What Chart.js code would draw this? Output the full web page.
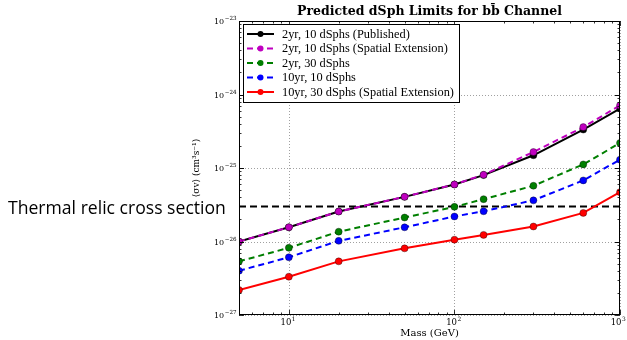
<!DOCTYPE html>
<html>
<head>
<meta charset="utf-8">
<script src="https://cdn.jsdelivr.net/npm/chart.js@4.4.1/dist/chart.umd.min.js"></script>
<style>
  html, body { margin: 0; padding: 0; background: #fff; }
</style>
</head>
<body>
<canvas id="grafico" width="627" height="340"></canvas>
<script>
// masas en GeV
const masas = [5, 10, 20, 50, 100, 150, 300, 600, 1000];
// <sigma v> en cm^3 s^-1
const publicado2yr10 = [1.0e-26, 1.56e-26, 2.56e-26, 4.05e-26, 5.97e-26, 8.0e-26, 1.49e-25, 3.33e-25, 6.44e-25];
const extension2yr10 = [1.0e-26, 1.56e-26, 2.56e-26, 4.05e-26, 5.97e-26, 8.1e-26, 1.65e-25, 3.6e-25, 7.1e-25];
const limite2yr30 = [5.37e-27, 8.2e-27, 1.36e-26, 2.12e-26, 2.96e-26, 3.77e-26, 5.73e-26, 1.12e-25, 2.19e-25];
const limite10yr10 = [4.0e-27, 6.1e-27, 1.02e-26, 1.56e-26, 2.19e-26, 2.58e-26, 3.63e-26, 6.78e-26, 1.3e-25];
const extension10yr30 = [2.19e-27, 3.32e-27, 5.37e-27, 8.07e-27, 1.06e-26, 1.23e-26, 1.6e-26, 2.45e-26, 4.69e-26];
const reliquiaTermica = 3.0e-26;

const etiquetas = [
  "2yr, 10 dSphs (Published)",
  "2yr, 10 dSphs (Spatial Extension)",
  "2yr, 30 dSphs",
  "10yr, 10 dSphs",
  "10yr, 30 dSphs (Spatial Extension)"
];
const ticksX = [1, 2, 3];          // exponentes de 10
const ticksY = [-27, -26, -25, -24, -23];

const colores = ["#000000", "#bf00bf", "#007f00", "#0000ff", "#ff0000"];
const discontinua = [false, true, true, true, false];
const series = [publicado2yr10, extension2yr10, limite2yr30, limite10yr10, extension10yr30];
const orden = [2, 1, 3, 4, 0];

const serif = '"DejaVu Serif", "Liberation Serif", serif';
const serifLeyenda = '"Liberation Serif", serif';

function puntos(valores) {
  return masas.map((m, i) => ({ x: m, y: valores[i] }));
}

const datasets = series.map((valores, i) => ({
  label: etiquetas[i],
  data: puntos(valores),
  borderColor: colores[i],
  backgroundColor: colores[i],
  borderWidth: 2,
  borderDash: discontinua[i] ? [6, 4] : [],
  pointRadius: 3.5,
  pointBackgroundColor: colores[i],
  pointBorderColor: "rgba(0,0,0,0.6)",
  pointBorderWidth: 0.6,
  tension: 0,
  order: orden[i]
}));

datasets.push({
  label: "Thermal relic cross section",
  data: [{ x: 5, y: reliquiaTermica }, { x: 1000, y: reliquiaTermica }],
  borderColor: "#000",
  borderWidth: 2,
  borderDash: [7, 4],
  pointRadius: 0,
  order: 10
});

function potencia(ctx, exp, x, y, size, align) {
  const base = "10";
  const sup = String(exp).replace("-", "\u2212");
  ctx.font = size + "px " + serif;
  const wb = ctx.measureText(base).width;
  ctx.font = (size * 0.7) + "px " + serif;
  const ws = ctx.measureText(sup).width;
  let x0 = x;
  if (align === "center") x0 = x - (wb + ws) / 2;
  if (align === "right") x0 = x - (wb + ws);
  ctx.textAlign = "left";
  ctx.textBaseline = "middle";
  ctx.font = size + "px " + serif;
  ctx.fillText(base, x0, y);
  ctx.font = (size * 0.7) + "px " + serif;
  ctx.fillText(sup, x0 + wb + 0.5, y - size * 0.4);
}

const decoracion = {
  id: "decoracion",
  beforeDatasetsDraw(chart) {
    const { ctx, chartArea: a, scales: { x, y } } = chart;
    ctx.save();
    ctx.strokeStyle = "#888";
    ctx.lineWidth = 0.8;
    ctx.setLineDash([1, 2]);
    ticksX.forEach(e => {
      const px = Math.round(x.getPixelForValue(Math.pow(10, e))) + 0.5;
      ctx.beginPath(); ctx.moveTo(px, a.top); ctx.lineTo(px, a.bottom); ctx.stroke();
    });
    ticksY.forEach(e => {
      const py = Math.round(y.getPixelForValue(Math.pow(10, e))) + 0.5;
      ctx.beginPath(); ctx.moveTo(a.left, py); ctx.lineTo(a.right, py); ctx.stroke();
    });
    ctx.restore();
  },
  afterDraw(chart) {
    const { ctx, chartArea: a, scales: { x, y } } = chart;
    ctx.save();
    // marco
    ctx.strokeStyle = "#000";
    ctx.lineWidth = 1;
    ctx.strokeRect(a.left + 0.5, a.top + 0.5, a.right - a.left - 1, a.bottom - a.top - 1);

    // marcas menores y mayores
    ctx.lineWidth = 0.8;
    for (let e = 0; e <= 3; e++) {
      for (let k = 1; k <= 9; k++) {
        const v = k * Math.pow(10, e);
        if (v < 5 || v > 1000) continue;
        const px = Math.round(x.getPixelForValue(v)) + 0.5;
        const len = k === 1 ? 5 : 2.5;
        ctx.beginPath();
        ctx.moveTo(px, a.bottom); ctx.lineTo(px, a.bottom - len);
        ctx.moveTo(px, a.top); ctx.lineTo(px, a.top + len);
        ctx.stroke();
      }
    }
    for (let e = -27; e <= -24; e++) {
      for (let k = 1; k <= 10; k++) {
        const v = k * Math.pow(10, e);
        const py = Math.round(y.getPixelForValue(v)) + 0.5;
        const len = (k === 1 || k === 10) ? 5 : 2.5;
        ctx.beginPath();
        ctx.moveTo(a.left, py); ctx.lineTo(a.left + len, py);
        ctx.moveTo(a.right, py); ctx.lineTo(a.right - len, py);
        ctx.stroke();
      }
    }

    // etiquetas de los ejes
    ctx.fillStyle = "#000";
    ticksX.forEach(e => {
      const px = x.getPixelForValue(Math.pow(10, e));
      potencia(ctx, e, Math.min(px - 1, 618), a.bottom + 8, 8.5, "center");
    });
    ticksY.forEach(e => potencia(ctx, e, a.left - 3, y.getPixelForValue(Math.pow(10, e)) + 1, 8, "right"));

    ctx.font = "10px " + serif;
    ctx.textAlign = "center";
    ctx.textBaseline = "middle";
    ctx.fillText("Mass (GeV)", (a.left + a.right) / 2, 333);

    ctx.save();
    ctx.translate(197, 168);
    ctx.rotate(-Math.PI / 2);
    ctx.font = "9px " + serif;
    ctx.fillText("\u27E8\u03C3v\u27E9 (cm\u00B3s\u207B\u00B9)", 0, 0);
    ctx.restore();

    // titulo
    ctx.font = "bold 12.5px " + serif;
    ctx.fillText("Predicted dSph Limits for bb\u0304 Channel", (a.left + a.right) / 2, 12);

    // leyenda
    const lx = 243, ly = 24, lw = 216, lh = 78;
    ctx.fillStyle = "#fff";
    ctx.fillRect(lx, ly, lw, lh);
    ctx.strokeStyle = "#000";
    ctx.lineWidth = 1;
    ctx.strokeRect(lx + 0.5, ly + 0.5, lw, lh);
    let tamLeyenda = 11;
    ctx.font = tamLeyenda + "px " + serifLeyenda;
    tamLeyenda = tamLeyenda * 166 / ctx.measureText(etiquetas[1]).width;
    etiquetas.forEach((t, i) => {
      const yy = ly + 10 + i * 14.5;
      ctx.strokeStyle = colores[i];
      ctx.lineWidth = 2;
      ctx.setLineDash(discontinua[i] ? [6, 4] : []);
      ctx.beginPath(); ctx.moveTo(247, yy); ctx.lineTo(274, yy); ctx.stroke();
      ctx.setLineDash([]);
      ctx.fillStyle = colores[i];
      ctx.beginPath(); ctx.arc(260.5, yy, 3, 0, Math.PI * 2); ctx.fill();
      ctx.fillStyle = "#000";
      ctx.font = tamLeyenda + "px " + serifLeyenda;
      ctx.textAlign = "left";
      ctx.fillText(t, 282, yy + 0.5);
    });

    // texto de la reliquia termica
    const texto = "Thermal relic cross section";
    let tam = 17;
    ctx.font = tam + 'px "Open Sans", sans-serif';
    tam = tam * 218 / ctx.measureText(texto).width;
    ctx.font = tam + 'px "Open Sans", sans-serif';
    ctx.textAlign = "left";
    ctx.textBaseline = "middle";
    ctx.fillText(texto, 8, 209);
    ctx.restore();
  }
};

new Chart(document.getElementById("grafico"), {
  type: "line",
  data: { datasets },
  options: {
    responsive: false,
    animation: false,
    layout: { padding: { top: 21, right: 7, bottom: 0, left: 0 } },
    plugins: { legend: { display: false }, tooltip: { enabled: false } },
    scales: {
      x: {
        type: "logarithmic",
        min: 5,
        max: 1000,
        grid: { display: false },
        border: { display: false },
        ticks: { display: false },
        afterFit: s => { s.height = 25; }
      },
      y: {
        type: "logarithmic",
        min: 1e-27,
        max: 1e-23,
        grid: { display: false },
        border: { display: false },
        ticks: { display: false },
        afterFit: s => { s.width = 239; }
      }
    }
  },
  plugins: [decoracion]
});
</script>
</body>
</html>
